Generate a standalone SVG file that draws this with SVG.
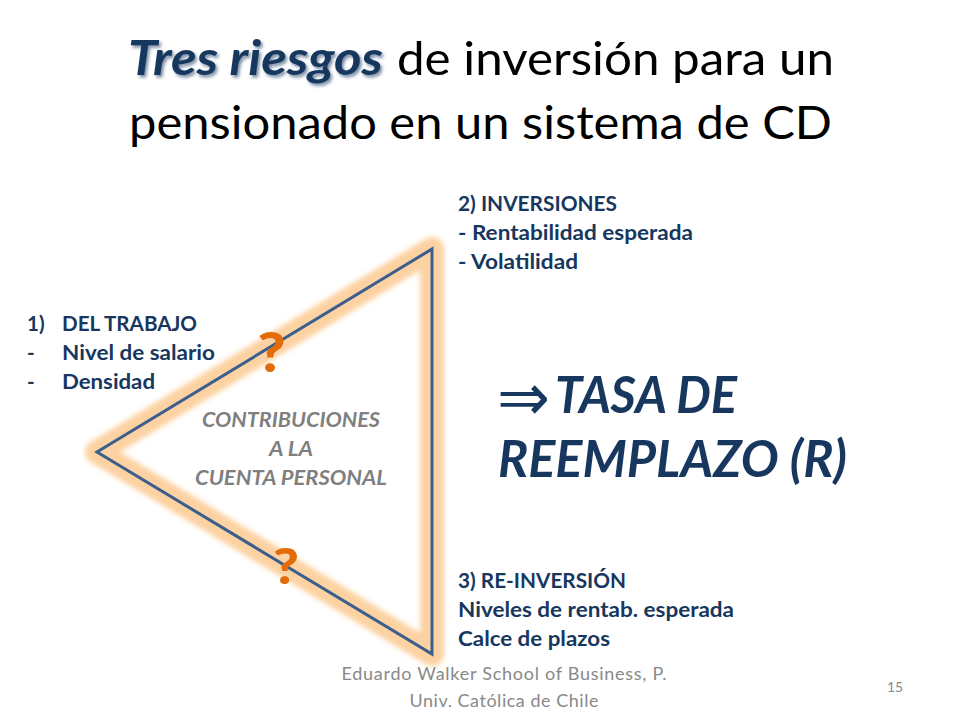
<svg xmlns="http://www.w3.org/2000/svg" width="960" height="720" viewBox="0 0 960 720">
<defs>
<filter id="glow" x="-20%" y="-20%" width="140%" height="140%"><feGaussianBlur stdDeviation="2.6"/></filter>
<filter id="ts" x="-10%" y="-30%" width="120%" height="170%"><feDropShadow dx="2" dy="2.5" stdDeviation="1.6" flood-color="#17375e" flood-opacity=".55"/></filter>
</defs>
<style>
text{font-family:Lato,"Open Sans","Liberation Sans",sans-serif}
.t{font-size:47px;fill:#000}
.n{font-size:20.5px;font-weight:700;fill:#17375e}
.g{font-size:20.5px;font-weight:700;font-style:italic;fill:#7f7f7f;text-anchor:middle}
.b{font-size:51px;font-weight:700;font-style:italic;fill:#17375e}
.q{font-weight:900;fill:#e36c0a;text-anchor:middle}
.f{font-size:18px;fill:#898989;text-anchor:middle}
</style>
<rect width="960" height="720" fill="#fff"/>
<g id="title">
<text class="t" x="128" y="75" font-weight="700" font-style="italic" textLength="255" lengthAdjust="spacingAndGlyphs" style="fill:#17375e" filter="url(#ts)">Tres riesgos</text>
<text class="t" x="397" y="75" textLength="437" lengthAdjust="spacingAndGlyphs">de inversión para un</text>
<text class="t" x="129" y="139" textLength="703" lengthAdjust="spacingAndGlyphs">pensionado en un sistema de CD</text>
</g>
<g id="triangle">
<path d="M432 249V654L97 452Z" fill="none" stroke="#fdd2a2" stroke-width="24" stroke-linejoin="round" filter="url(#glow)"/>
<path d="M432 249V654L97 452Z" fill="none" stroke="#3b5e8c" stroke-width="3" stroke-linejoin="miter"/>
</g>
<g id="node-trabajo">
<text class="n" x="27" y="331">1)</text><text class="n" x="62" y="331" textLength="135" lengthAdjust="spacingAndGlyphs">DEL TRABAJO</text>
<text class="n" x="27" y="360">-</text><text class="n" x="62" y="360" textLength="153" lengthAdjust="spacingAndGlyphs">Nivel de salario</text>
<text class="n" x="27" y="389">-</text><text class="n" x="62" y="389" textLength="93" lengthAdjust="spacingAndGlyphs">Densidad</text>
</g>
<g id="node-inversiones">
<text class="n" x="458" y="211" textLength="159" lengthAdjust="spacingAndGlyphs">2) INVERSIONES</text>
<text class="n" x="458" y="240" textLength="235" lengthAdjust="spacingAndGlyphs">- Rentabilidad esperada</text>
<text class="n" x="458" y="269" textLength="120" lengthAdjust="spacingAndGlyphs">- Volatilidad</text>
</g>
<g id="node-reinversion">
<text class="n" x="458" y="588" textLength="168" lengthAdjust="spacingAndGlyphs">3) RE-INVERSIÓN</text>
<text class="n" x="458" y="617" textLength="276" lengthAdjust="spacingAndGlyphs">Niveles de rentab. esperada</text>
<text class="n" x="458" y="646" textLength="152" lengthAdjust="spacingAndGlyphs">Calce de plazos</text>
</g>
<g id="node-contribuciones">
<text class="g" x="291" y="427" textLength="178" lengthAdjust="spacingAndGlyphs">CONTRIBUCIONES</text>
<text class="g" x="291" y="456" textLength="44" lengthAdjust="spacingAndGlyphs">A LA</text>
<text class="g" x="291" y="485" textLength="192" lengthAdjust="spacingAndGlyphs">CUENTA PERSONAL</text>
</g>
<g id="questions">
<text class="q" x="271.500" y="372" font-size="56" textLength="28" lengthAdjust="spacingAndGlyphs">?</text>
<text class="q" x="286" y="584" font-size="50" textLength="26" lengthAdjust="spacingAndGlyphs">?</text>
</g>
<g id="node-tasa">
<text x="497" y="420" font-size="66" fill="#17375e" style="font-family:'Liberation Serif','DejaVu Sans',sans-serif" textLength="53" lengthAdjust="spacingAndGlyphs">⇒</text>
<text class="b" x="555" y="413" textLength="182" lengthAdjust="spacingAndGlyphs">TASA DE</text>
<text class="b" x="498" y="477" textLength="349" lengthAdjust="spacingAndGlyphs">REEMPLAZO (R)</text>
</g>
<g id="footer">
<text class="f" x="504" y="680" textLength="325" lengthAdjust="spacing">Eduardo Walker School of Business, P.</text>
<text class="f" x="504" y="707" textLength="189" lengthAdjust="spacing">Univ. Católica de Chile</text>
<text x="895" y="692" font-size="14" fill="#898989" text-anchor="middle">15</text>
</g>
</svg>
